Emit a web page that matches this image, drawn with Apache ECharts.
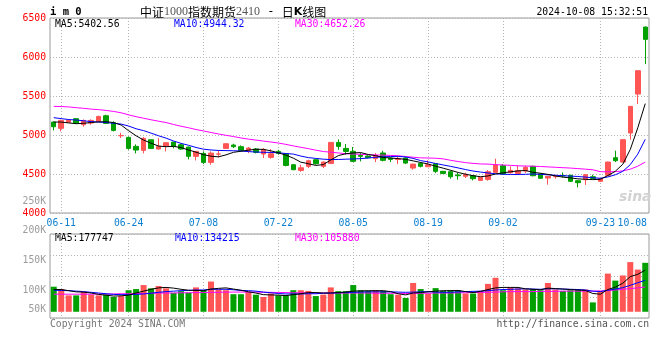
<!DOCTYPE html>
<html><head><meta charset="utf-8">
<script src="https://cdn.jsdelivr.net/npm/echarts@6/dist/echarts.min.js"></script>
<style>html,body{margin:0;padding:0;background:#fff}#c{width:660px;height:360px}</style>
</head><body><div id="c"></div>
<script>
// ---------- data ----------
const dates = ['06-07','06-11','06-12','06-13','06-14','06-17','06-18','06-19','06-20','06-21',
 '06-24','06-25','06-26','06-27','06-28','07-01','07-02','07-03','07-04','07-05',
 '07-08','07-09','07-10','07-11','07-12','07-15','07-16','07-17','07-18','07-19',
 '07-22','07-23','07-24','07-25','07-26','07-29','07-30','07-31','08-01','08-02',
 '08-05','08-06','08-07','08-08','08-09','08-12','08-13','08-14','08-15','08-16',
 '08-19','08-20','08-21','08-22','08-23','08-26','08-27','08-28','08-29','08-30',
 '09-02','09-03','09-04','09-05','09-06','09-09','09-10','09-11','09-12','09-13',
 '09-18','09-19','09-20','09-23','09-24','09-25','09-26','09-27','09-30','10-08'];
const opens = [5166,5085,5162,5209,5132,5153,5174,5247,5157,4990,
 4969,4854,4803,4939,4820,4858,4909,4875,4845,4726,
 4764,4649,4755,4828,4871,4850,4803,4820,4756,4713,
 4790,4760,4619,4546,4598,4683,4598,4636,4905,4828,
 4790,4739,4730,4696,4769,4704,4687,4704,4576,4636,
 4593,4632,4534,4529,4487,4470,4478,4418,4431,4521,
 4606,4517,4508,4538,4598,4500,4448,4465,4480,4483,
 4414,4427,4465,4406,4483,4709,4653,5025,5525,6384];
const closes = [5106,5187,5191,5153,5183,5187,5238,5149,5059,4993,
 4828,4807,4956,4828,4854,4901,4854,4820,4726,4790,
 4649,4768,4757,4888,4850,4803,4832,4777,4815,4760,
 4764,4610,4555,4580,4670,4632,4653,4905,4854,4790,
 4662,4726,4709,4739,4675,4687,4696,4640,4627,4598,
 4619,4534,4508,4465,4478,4495,4440,4457,4529,4615,
 4500,4547,4542,4585,4478,4445,4470,4470,4475,4406,
 4389,4491,4442,4440,4653,4671,4940,5367,5824,6226];
const lows = [5059,5046,5155,5140,5106,5132,5170,5140,5046,4961,
 4811,4764,4764,4820,4815,4790,4828,4811,4687,4674,
 4628,4619,4713,4826,4833,4790,4768,4764,4704,4696,
 4747,4598,4550,4529,4576,4619,4576,4627,4811,4747,
 4653,4662,4700,4653,4662,4653,4627,4627,4555,4585,
 4590,4512,4500,4440,4427,4448,4418,4415,4414,4512,
 4491,4504,4491,4512,4470,4440,4363,4440,4455,4400,
 4329,4359,4435,4400,4480,4653,4650,4940,5397,5910];
const highs = [5172,5196,5196,5212,5200,5200,5247,5260,5175,5029,
 4982,4880,4974,4942,4961,4905,4912,4890,4850,4792,
 4790,4790,4807,4892,4888,4867,4846,4833,4833,4820,
 4810,4765,4625,4619,4683,4690,4660,4908,4944,4884,
 4846,4769,4740,4769,4798,4710,4726,4717,4630,4653,
 4675,4640,4540,4542,4512,4517,4485,4460,4551,4696,
 4628,4598,4606,4606,4606,4512,4475,4490,4520,4490,
 4420,4500,4490,4445,4658,4799,4945,5370,5830,6390];
const ma5 = [5166,5166,5155,5145,5150,5160,5168,5170,5160,5128,
 5055,4990,4935,4895,4858,4850,4855,4838,4808,4780,
 4748,4728,4720,4745,4778,4792,4805,4818,4815,4797,
 4772,4742,4703,4652,4632,4610,4620,4680,4735,4760,
 4770,4775,4750,4735,4712,4705,4697,4688,4668,4648,
 4628,4600,4575,4548,4520,4497,4478,4465,4475,4500,
 4515,4528,4540,4545,4522,4510,4495,4475,4460,4450,
 4438,4432,4428,4432,4480,4535,4625,4815,5092,5402.56];
const ma10 = [5222,5210,5198,5192,5182,5172,5166,5160,5150,5140,
 5115,5080,5056,5024,4990,4960,4923,4893,4868,4840,
 4818,4808,4802,4800,4798,4795,4787,4782,4778,4777,
 4772,4763,4755,4730,4710,4700,4690,4685,4686,4690,
 4693,4697,4705,4714,4720,4724,4726,4718,4700,4672,
 4655,4635,4616,4598,4578,4557,4538,4525,4513,4503,
 4497,4494,4494,4496,4500,4495,4490,4484,4478,4473,
 4468,4460,4452,4445,4462,4490,4534,4620,4755,4944.32];
const ma30 = [5367,5365,5360,5350,5342,5332,5325,5315,5302,5285,
 5258,5235,5215,5195,5177,5160,5135,5112,5093,5070,
 5052,5032,5013,4996,4980,4962,4947,4935,4922,4910,
 4897,4880,4860,4842,4825,4806,4788,4780,4770,4760,
 4756,4752,4748,4744,4742,4738,4733,4724,4715,4707,
 4705,4702,4694,4676,4660,4646,4636,4629,4627,4620,
 4615,4611,4605,4602,4600,4596,4591,4586,4581,4576,
 4569,4562,4554,4530,4528,4530,4540,4562,4600,4652.26];
const volumes = [107000,97000,70000,70000,85000,73000,70000,73000,63000,67000,
 92000,97000,114000,100000,110000,100000,81000,88000,82000,104000,
 92000,129000,95000,92000,75000,75000,85000,73000,63000,78000,
 70000,70000,92000,92000,89000,67000,73000,104000,88000,88000,
 114000,92000,89000,92000,89000,75000,73000,59000,123000,97000,
 78000,101000,89000,92000,92000,78000,78000,89000,119000,145000,
 92000,104000,100000,95000,95000,92000,123000,95000,89000,92000,
 95000,95000,40000,89000,163000,133000,155000,212000,180000,209000];
const volMa5 = [95000,95000,90000,85000,84000,80000,74000,71000,67000,68000,
 71000,80000,88000,96000,102000,104000,101000,96000,92000,91000,
 90000,97000,100000,102000,97000,92000,85000,80000,73000,72000,
 71000,69000,73000,77000,82000,82000,80000,80000,82000,84000,
 88000,89000,90000,90000,90000,86000,77000,72000,80000,82000,
 85000,88000,90000,90000,91000,86000,82000,87000,95000,102000,
 104000,104000,104000,98000,96000,94000,101000,99000,97000,95000,
 93000,91000,78000,75000,95000,105000,122000,150000,160000,177747];
const volMa10 = [92000,91000,90000,88000,86000,83000,80000,77000,74000,73000,
 73000,74000,76000,79000,83000,86000,88000,90000,91000,93000,
 93000,96000,96000,96000,94000,91000,90000,88000,84000,81000,
 78000,76000,76000,76000,77000,77000,79000,80000,81000,82000,
 83000,84000,85000,85000,85000,85000,84000,83000,84000,85000,
 86000,84000,83000,83000,85000,86000,87000,88000,90000,93000,
 95000,96000,97000,98000,97000,96000,98000,98000,97000,96000,
 95000,93000,88000,86000,92000,97000,103000,113000,124000,134215];
const volMa30 = [75000,75000,75000,75000,75000,75000,76000,76000,76000,77000,
 77000,78000,78000,79000,80000,80000,80000,81000,81000,82000,
 82000,83000,83000,84000,84000,84000,84000,84000,83000,83000,
 82000,82000,81000,81000,80000,80000,80000,80000,80000,80000,
 80000,80000,80000,79000,79000,79000,79000,78000,78000,79000,
 79000,80000,80000,80000,81000,81000,82000,83000,83000,84000,
 85000,86000,86000,86000,86000,87000,87000,87000,88000,88000,
 88000,88000,88000,89000,90000,93000,96000,99000,102000,105880];
const labelDates = ['06-11','06-24','07-08','07-22','08-05','08-19','09-02','09-23','10-08'];
const priceMin = 4000, priceMax = 6500, priceStep = 500;
const volLabelMin = 50000, volLabelMax = 250000, volLabelStep = 50000;
const titleCode = 'i m 0';
const stamp = '2024-10-08 15:32:51';

// ---------- chart ----------
const RED = '#ff5555', GREEN = '#00a000';
const MONO = "'DejaVu Sans Mono', monospace";
const FS = 9.75;
const dotted = {color: '#b4b4b4', type: [1, 2], width: 1};
const last = dates.length - 1;
const labelIdx = labelDates.map(d => dates.indexOf(d));
const candles = dates.map((d, i) => [opens[i], closes[i], lows[i], highs[i]]);
const volData = volumes.map((v, i) => ({value: v, itemStyle: {color: closes[i] >= opens[i] ? RED : GREEN}}));
const lastOf = a => a[a.length - 1];

function maLine(data, color, xi) {
  return {type: 'line', data: data, xAxisIndex: xi, yAxisIndex: xi, showSymbol: false, symbol: 'none',
    lineStyle: {width: 1, color: color}, itemStyle: {color: color}, silent: true, z: 4};
}
function txt(x, y, text, fill, extra) {
  return Object.assign({type: 'text', x: x, y: y, silent: true,
    style: Object.assign({text: text, fill: fill, fontFamily: MONO, fontSize: FS, verticalAlign: 'middle', align: 'left'}, extra || {})});
}

const xCat = (gi, showLabel) => ({
  type: 'category', gridIndex: gi, data: dates, boundaryGap: true,
  axisLine: {show: false}, axisTick: {show: false},
  axisLabel: {show: showLabel, interval: (i) => labelIdx.includes(i), fontFamily: MONO, fontSize: FS,
    color: '#0b7fd0', margin: 5,
    formatter: (v, i) => (i === last ? '{r|' + v + '}' : v),
    rich: {r: {fontFamily: MONO, fontSize: FS, color: '#0b7fd0', padding: [0, 26, 0, 0]}}},
  splitLine: {show: true, interval: (i) => labelIdx.includes(i) && i !== last, alignWithLabel: true, lineStyle: dotted}
});

const chart = echarts.init(document.getElementById('c'), null, {renderer: 'canvas', width: 660, height: 360});
chart.setOption({
  animation: false,
  backgroundColor: '#fff',
  grid: [
    {left: 50, right: 11, top: 18, height: 195, show: true, borderColor: '#9a9a9a', borderWidth: 1, outerBoundsMode: 'none'},
    {left: 50, right: 11, top: 234, height: 84, show: true, borderColor: '#9a9a9a', borderWidth: 1, outerBoundsMode: 'none'},
    {left: 50, right: 11, top: 201, height: 118.7, show: false, outerBoundsMode: 'none'}
  ],
  xAxis: [
    xCat(0, true),
    xCat(1, false),
    {type: 'value', gridIndex: 2, min: 0, max: 1, show: false}
  ],
  yAxis: [
    {type: 'value', gridIndex: 0, min: priceMin, max: priceMax, interval: priceStep,
      axisLine: {show: false}, axisTick: {show: false},
      axisLabel: {color: '#f00', fontFamily: MONO, fontSize: FS, margin: 4, showMinLabel: true, showMaxLabel: true,
        formatter: (v) => String(v)},
      splitLine: {show: true, lineStyle: dotted}},
    {type: 'value', gridIndex: 1, min: -26600, max: 332000, interval: 89650,
      axisLine: {show: false}, axisTick: {show: false}, axisLabel: {show: false},
      splitLine: {show: true, lineStyle: dotted}},
    {type: 'value', gridIndex: 2, min: volLabelMin, max: volLabelMax, interval: volLabelStep,
      axisLine: {show: false}, axisTick: {show: false}, splitLine: {show: false},
      axisLabel: {color: '#9c9c9c', fontFamily: MONO, fontSize: FS, margin: 4, showMinLabel: true, showMaxLabel: true,
        formatter: (v) => (v === volLabelMin ? '{u|' + (v / 1000) + 'K}' : (v / 1000) + 'K'),
        rich: {u: {color: '#9c9c9c', fontFamily: MONO, fontSize: FS, padding: [0, 0, 21, 0]}}}}
  ],
  series: [
    {type: 'candlestick', xAxisIndex: 0, yAxisIndex: 0, data: candles, barWidth: 5, z: 3,
      itemStyle: {color: RED, color0: GREEN, borderColor: RED, borderColor0: GREEN, borderColorDoji: RED, borderWidth: 1}},
    maLine(ma30, '#ff00ff', 0), maLine(ma10, '#0000ff', 0), maLine(ma5, '#000000', 0),
    {type: 'bar', xAxisIndex: 1, yAxisIndex: 1, data: volData, barWidth: 6, z: 3},
    maLine(volMa30, '#ff00ff', 1), maLine(volMa10, '#0000ff', 1), maLine(volMa5, '#000000', 1)
  ],
  graphic: [
    txt(50, 12, titleCode, '#000', {fontWeight: 'bold', fontSize: 10.5}),
    {type: 'text', x: 140, y: 12, silent: true, style: {
      text: '{c|中证}{d|1000}{c|指数期货}{d|2410}{m| - }{c|日}{k|K}{c|线图}', verticalAlign: 'middle',
      rich: {
        c: {fill: '#000', fontFamily: "'Noto Sans CJK SC'", fontSize: 12},
        d: {fill: '#555', fontFamily: "'Liberation Serif'", fontSize: 12},
        m: {fill: '#000', fontFamily: MONO, fontSize: 12},
        k: {fill: '#000', fontFamily: "'DejaVu Sans'", fontSize: 11, fontWeight: 'bold'}
      }}},
    txt(648, 12, stamp, '#000', {align: 'right'}),
    txt(55, 24, 'MA5:' + lastOf(ma5).toFixed(2), '#000'),
    txt(174, 24, 'MA10:' + lastOf(ma10).toFixed(2), '#0000ff'),
    txt(295, 24, 'MA30:' + lastOf(ma30).toFixed(2), '#ff00ff'),
    txt(55, 238.5, 'MA5:' + lastOf(volMa5), '#000'),
    txt(175, 238.5, 'MA10:' + lastOf(volMa10), '#0000ff'),
    txt(295, 238.5, 'MA30:' + lastOf(volMa30), '#ff00ff'),
    txt(50, 324, 'Copyright 2024 SINA.COM', '#777'),
    txt(649, 324, 'http://finance.sina.com.cn', '#555', {align: 'right'}),
    txt(619, 197, 'sina', '#d2d2d2', {fontFamily: "'DejaVu Sans'", fontSize: 14, fontWeight: 'bold', fontStyle: 'italic'})
  ]
});
</script></body></html>
